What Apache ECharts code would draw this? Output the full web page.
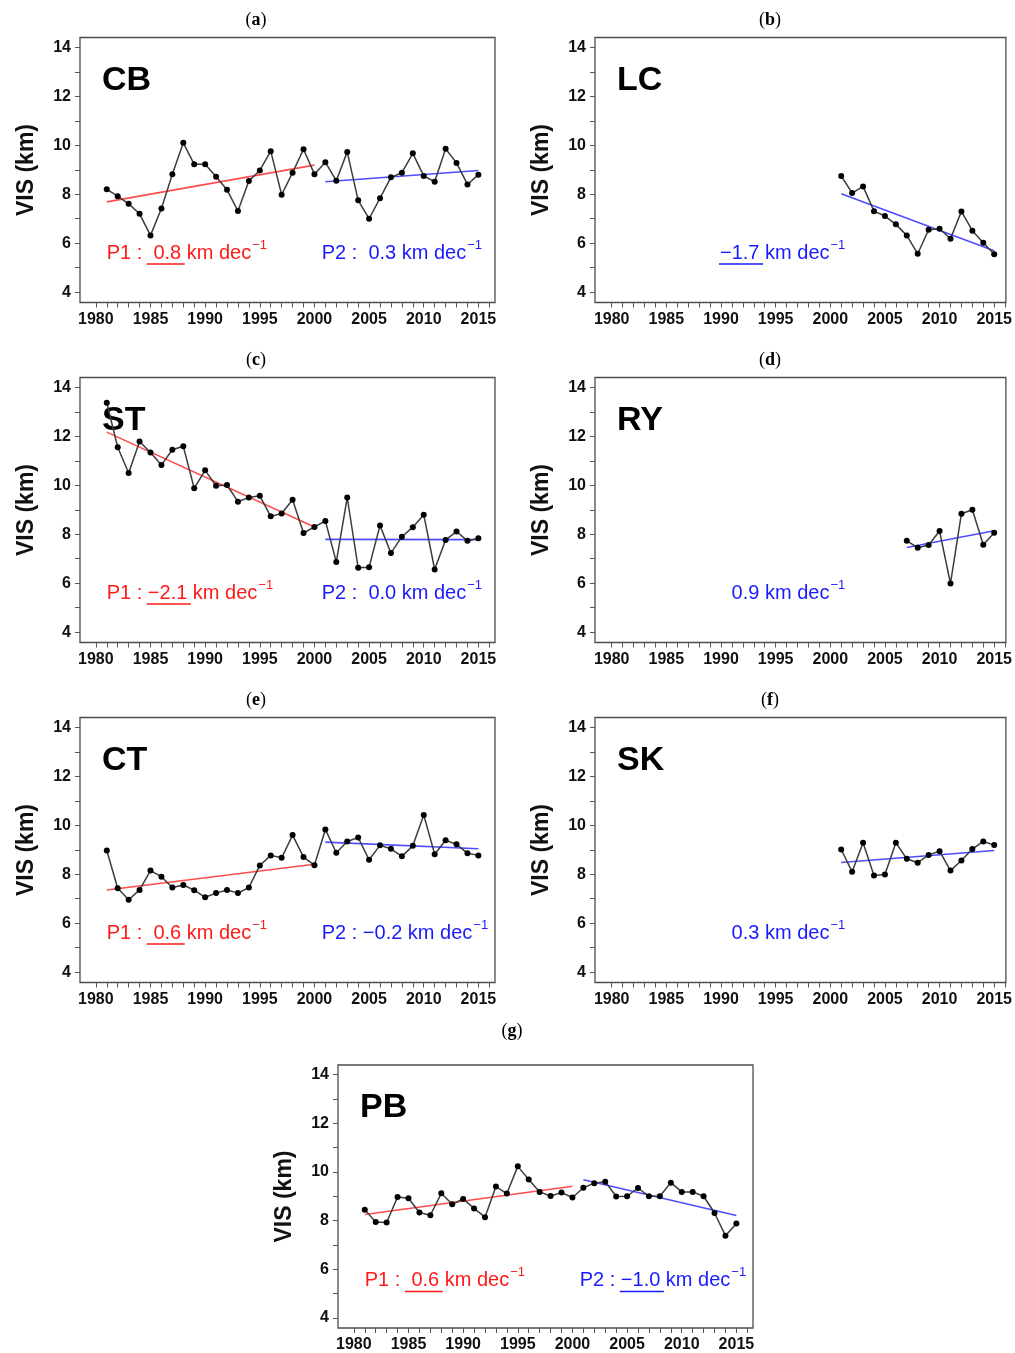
<!DOCTYPE html>
<html><head><meta charset="utf-8">
<script src="https://cdn.jsdelivr.net/npm/echarts@6/dist/echarts.min.js"></script>
<style>html,body{margin:0;padding:0;background:#fff}#c{width:1015px;height:1353px}</style>
</head><body><div id="c"></div><script>
// ---------- DATA ----------
const yearsFull = [1981,1982,1983,1984,1985,1986,1987,1988,1989,1990,1991,1992,1993,1994,1995,1996,1997,1998,1999,2000,2001,2002,2003,2004,2005,2006,2007,2008,2009,2010,2011,2012,2013,2014,2015];
const years2001 = [2001,2002,2003,2004,2005,2006,2007,2008,2009,2010,2011,2012,2013,2014,2015];
const years2007 = [2007,2008,2009,2010,2011,2012,2013,2014,2015];
const xTickLabels = [1980,1985,1990,1995,2000,2005,2010,2015];
const xTicks = [1980,1981,1982,1983,1984,1985,1986,1987,1988,1989,1990,1991,1992,1993,1994,1995,1996,1997,1998,1999,2000,2001,2002,2003,2004,2005,2006,2007,2008,2009,2010,2011,2012,2013,2014,2015,2016];
const yTickLabels = [4,6,8,10,12,14];
const yTicks = [4,5,6,7,8,9,10,11,12,13,14];
const stations = ['CB','LC','ST','RY','CT','SK','PB'];
const panelLetters = ['a','b','c','d','e','f','g'];

const visCB = [8.20,7.92,7.61,7.20,6.32,7.42,8.82,10.10,9.22,9.22,8.71,8.18,7.32,8.54,8.97,9.76,7.98,8.88,9.84,8.82,9.31,8.55,9.73,7.75,7.00,7.84,8.69,8.88,9.67,8.75,8.51,9.86,9.28,8.40,8.80];
const visLC = [8.75,8.05,8.32,7.31,7.11,6.77,6.32,5.57,6.55,6.59,6.18,7.30,6.51,6.02,5.55];
const visST = [13.37,11.55,10.50,11.79,11.34,10.83,11.45,11.59,9.88,10.61,9.98,10.01,9.33,9.50,9.57,8.73,8.85,9.41,8.05,8.30,8.54,6.87,9.50,6.63,6.65,8.36,7.23,7.90,8.29,8.80,6.56,7.77,8.11,7.73,7.84];
const visRY = [7.73,7.45,7.56,8.13,5.99,8.84,9.00,7.57,8.06];
const visCT = [8.97,7.43,6.96,7.36,8.15,7.90,7.46,7.56,7.35,7.06,7.23,7.36,7.23,7.46,8.36,8.77,8.67,9.60,8.70,8.37,9.83,8.88,9.34,9.50,8.59,9.18,9.04,8.73,9.16,10.42,8.82,9.39,9.22,8.86,8.77];
const visSK = [9.01,8.10,9.29,7.95,7.99,9.29,8.63,8.47,8.79,8.94,8.15,8.56,9.03,9.34,9.19];
const visPB = [8.45,7.94,7.92,8.97,8.92,8.33,8.22,9.12,8.67,8.89,8.50,8.14,9.40,9.11,10.23,9.69,9.18,9.01,9.15,8.95,9.35,9.54,9.60,8.99,9.00,9.34,9.00,9.00,9.56,9.18,9.18,9.00,8.31,7.38,7.88];

// trend line end points (start year, end year, start value, end value)
const trendP1Years = [1981, 2000];
const trendCB_P1 = [7.69, 9.19];
const trendST_P1 = [12.17, 8.30];
const trendCT_P1 = [7.36, 8.41];
const trendPB_P1 = [8.25, 9.41];
const trendP2Years = [2001, 2015];
const trendRYYears = [2007, 2015];
const trendCB_P2 = [8.51, 8.97];
const trendLC_P2 = [8.02, 5.69];
const trendST_P2 = [7.79, 7.78];
const trendRY_P2 = [7.46, 8.14];
const trendCT_P2 = [9.31, 9.04];
const trendSK_P2 = [8.48, 8.97];
const trendPB_P2 = [9.68, 8.21];

const slopesP1 = ['0.8', null, '\u22122.1', null, '0.6', null, '0.6'];
const signifP1 = [true, false, true, false, true, false, true];
const slopesP2 = ['0.3', '\u22121.7', '0.0', '0.9', '\u22120.2', '0.3', '\u22121.0'];
const signifP2 = [false, true, false, false, false, false, true];

// ---------- LAYOUT ----------
const panels = [
  {left:80,  top:37.5,  w:415, xmin:1978.55, xmax:2016.52, single:false},
  {left:595, top:37.5,  w:411, xmin:1978.47, xmax:2016.07, single:true},
  {left:80,  top:377.5, w:415, xmin:1978.55, xmax:2016.52, single:false},
  {left:595, top:377.5, w:411, xmin:1978.47, xmax:2016.07, single:true},
  {left:80,  top:717.5, w:415, xmin:1978.55, xmax:2016.52, single:false},
  {left:595, top:717.5, w:411, xmin:1978.47, xmax:2016.07, single:true},
  {left:338, top:1065,  w:415, xmin:1978.55, xmax:2016.52, single:false}
];
const H = 265, YMIN = 3.58, YMAX = 14.4;
const titlePos = [[256,20],[770,20],[256,360],[770,360],[256,700],[770,700],[512,1031]];
const singleDx = [0, 125, 0, 131, 0, 131, 0];

const RED = '#ff1a1a', BLUE = '#1a1aff';
const SANS = '"Liberation Sans", Arial, Helvetica, sans-serif';

const seriesData = [
  {years: yearsFull, vals: visCB, p1: trendCB_P1, p2: trendCB_P2, p2y: trendP2Years},
  {years: years2001, vals: visLC, p1: null, p2: trendLC_P2, p2y: trendP2Years},
  {years: yearsFull, vals: visST, p1: trendST_P1, p2: trendST_P2, p2y: trendP2Years},
  {years: years2007, vals: visRY, p1: null, p2: trendRY_P2, p2y: trendRYYears},
  {years: yearsFull, vals: visCT, p1: trendCT_P1, p2: trendCT_P2, p2y: trendP2Years},
  {years: years2001, vals: visSK, p1: null, p2: trendSK_P2, p2y: trendP2Years},
  {years: yearsFull, vals: visPB, p1: trendPB_P1, p2: trendPB_P2, p2y: trendP2Years}
];

const ctx = document.createElement('canvas').getContext('2d');
function tw(s, font){ ctx.font = font; return ctx.measureText(s).width; }

const grids = [], xAxes = [], yAxes = [], series = [], graphics = [];
panels.forEach((p, i) => {
  grids.push({left:p.left, top:p.top, width:p.w, height:H, show:true, borderColor:'#4d4d4d', borderWidth:1.3, backgroundColor:'rgba(0,0,0,0)'});
  xAxes.push({gridIndex:i, type:'value', min:p.xmin, max:p.xmax,
    axisLine:{show:false}, splitLine:{show:false},
    axisTick:{show:true, inside:false, length:5, customValues:xTicks, lineStyle:{color:'#555', width:1}},
    axisLabel:{customValues:xTickLabels, formatter:v => String(v), fontFamily:SANS, fontWeight:'bold', fontSize:16, color:'#111', margin:9}
  });
  yAxes.push({gridIndex:i, type:'value', min:YMIN, max:YMAX,
    name:'VIS (km)', nameLocation:'middle', nameGap:42,
    nameTextStyle:{fontFamily:SANS, fontWeight:'bold', fontSize:23, color:'#111'},
    axisLine:{show:false}, splitLine:{show:false},
    axisTick:{show:true, inside:false, length:5, customValues:yTicks, lineStyle:{color:'#555', width:1}},
    axisLabel:{customValues:yTickLabels, formatter:v => String(v), fontFamily:SANS, fontWeight:'bold', fontSize:16, color:'#111', margin:9}
  });
  const d = seriesData[i];
  if (d.p1) series.push({type:'line', xAxisIndex:i, yAxisIndex:i, symbol:'none', z:2,
    data:[[trendP1Years[0], d.p1[0]],[trendP1Years[1], d.p1[1]]], lineStyle:{color:'#ff4d4d', width:1.6}});
  series.push({type:'line', xAxisIndex:i, yAxisIndex:i, symbol:'none', z:2,
    data:[[d.p2y[0], d.p2[0]],[d.p2y[1], d.p2[1]]], lineStyle:{color:'#4d4dff', width:1.6}});
  series.push({type:'line', xAxisIndex:i, yAxisIndex:i, z:3, symbol:'circle', symbolSize:6, showAllSymbol:true,
    data:d.years.map((y, k) => [y, d.vals[k]]),
    itemStyle:{color:'#000'}, lineStyle:{color:'#3c3c3c', width:1.5}});

  // panel title
  graphics.push({type:'text', x:titlePos[i][0], y:titlePos[i][1], silent:true,
    style:{text:'{p|(}{b|' + panelLetters[i] + '}{p|)}', align:'center', verticalAlign:'middle',
      rich:{p:{fontFamily:'"Liberation Serif", serif', fontSize:18, fill:'#000'},
            b:{fontFamily:'"Liberation Serif", serif', fontSize:18, fontWeight:'bold', fill:'#000'}}}});
  // station label
  graphics.push({type:'text', x:p.left + 22, y:p.top + 43, silent:true,
    style:{text:stations[i], font:'bold 34px ' + SANS, fill:'#000', verticalAlign:'middle', align:'left'}});

  // annotations
  const F = '20px ' + SANS, FS = '13px ' + SANS;
  const baseY = p.top + 222.5;
  function anno(x, color, prefix, value, ul){
    let cx = x;
    if (prefix){
      graphics.push({type:'text', x:cx, y:baseY - 7, silent:true, style:{text:prefix, font:F, fill:color, verticalAlign:'middle'}});
      cx += tw(prefix, F);
    }
    const tok = (value.charAt(0) === '\u2212' ? '' : ' ') + value + ' ';
    const vw = tw(tok, F);
    graphics.push({type:'text', x:cx, y:baseY - 7, silent:true, style:{text:tok, font:F, fill:color, verticalAlign:'middle'}});
    if (ul) graphics.push({type:'line', silent:true, shape:{x1:cx - 1, y1:baseY + 4, x2:cx + vw - 2, y2:baseY + 4}, style:{stroke:color, lineWidth:1.5}});
    cx += vw;
    graphics.push({type:'text', x:cx, y:baseY - 7, silent:true, style:{text:'km dec', font:F, fill:color, verticalAlign:'middle'}});
    cx += tw('km dec', F) + 1;
    graphics.push({type:'text', x:cx, y:baseY - 15, silent:true, style:{text:'\u22121', font:FS, fill:color, verticalAlign:'middle'}});
  }
  if (!p.single){
    anno(p.left + 26.7, RED, 'P1 : ', slopesP1[i], signifP1[i]);
    anno(p.left + 241.7, BLUE, 'P2 : ', slopesP2[i], signifP2[i]);
  } else {
    anno(p.left + singleDx[i], BLUE, '', slopesP2[i], signifP2[i]);
  }
});

const chart = echarts.init(document.getElementById('c'), null, {renderer:'canvas'});
chart.setOption({
  animation:false,
  backgroundColor:'#fff',
  grid:grids, xAxis:xAxes, yAxis:yAxes, series:series, graphic:graphics
});
</script></body></html>
